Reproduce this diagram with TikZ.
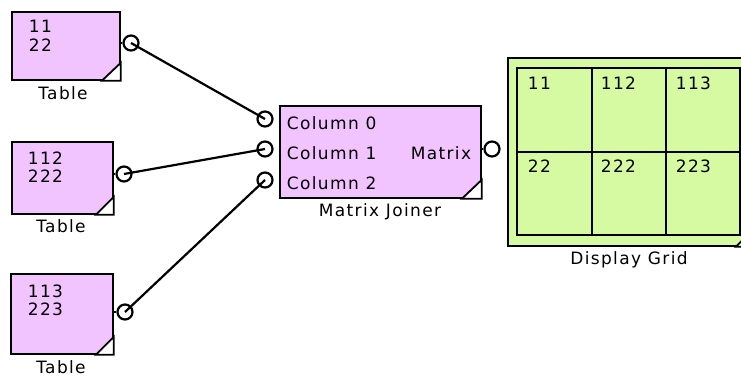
\documentclass[tikz,border=0pt]{standalone}
\usepackage{fontspec}
\setmainfont{DejaVu Sans}[LetterSpace=8]
\definecolor{blockpink}{RGB}{242,196,255}
\definecolor{gridgreen}{RGB}{214,250,162}

\begin{document}
\begin{tikzpicture}[x=1pt, y=-1pt, line width=1.8pt,
    every node/.style={font=\fontsize{17}{20}\selectfont, inner sep=0pt},
    block/.style={draw, fill=blockpink, anchor=north west},
    port/.style={circle, draw, line width=2.2pt, minimum size=15pt},
    wire/.style={line width=2.2pt},
    caption/.style={anchor=base}]

    \useasboundingbox (0,0) rectangle (741,379);
    \clip (0,0) rectangle (741,379);

    % Table 1
    \node[block, minimum width=108pt, minimum height=68pt] (tab1) at (11,11) {};
    \draw[fill=white] (tab1.south east) -- ++(-19,0) -- ++(19,-18) -- cycle;
    \node[anchor=base west] (tab1a) at (28,33) {11};
    \node[anchor=base west] (tab1b) at (28,52) {22};
    \node[caption] (tab1cap) at (63,100) {Table};
    \node[port] (tab1out) at (131,43) {};
    \draw (tab1.east |- tab1out) -- (tab1out.west);

    % Table 2
    \node[block, minimum width=101pt, minimum height=72pt] (tab2) at (11,141) {};
    \draw[fill=white] (tab2.south east) -- ++(-18,0) -- ++(18,-18) -- cycle;
    \node[anchor=base west] (tab2a) at (27,165) {112};
    \node[anchor=base west] (tab2b) at (27,183) {222};
    \node[caption] (tab2cap) at (61,233) {Table};
    \node[port] (tab2out) at (124,174) {};
    \draw (tab2.east |- tab2out) -- (tab2out.west);

    % Table 3
    \node[block, minimum width=102pt, minimum height=80pt] (tab3) at (10,273) {};
    \draw[fill=white] (tab3.south east) -- ++(-18,0) -- ++(18,-18) -- cycle;
    \node[anchor=base west] (tab3a) at (27,297) {113};
    \node[anchor=base west] (tab3b) at (27,315) {223};
    \node[caption] (tab3cap) at (61,373) {Table};
    \node[port] (tab3out) at (125,312) {};
    \draw (tab3.east |- tab3out) -- (tab3out.west);

    % Matrix Joiner
    \node[block, minimum width=201pt, minimum height=92pt] (join) at (279,105) {};
    \draw[fill=white] (join.south east) -- ++(-20,0) -- ++(20,-19) -- cycle;
    \node[anchor=base west] (col0) at (286,130) {Column 0};
    \node[anchor=base west] (col1) at (286,160) {Column 1};
    \node[anchor=base west] (col2) at (286,190) {Column 2};
    \node[anchor=base east] (matrix) at (472,160) {Matrix};
    \node[caption] (joincap) at (380,217) {Matrix Joiner};
    \node[port] (join0) at (265,119) {};
    \node[port] (join1) at (265,149) {};
    \node[port] (join2) at (265,180) {};
    \node[port] (joinout) at (492,149) {};
    \draw (join.east |- joinout) -- (joinout.west);

    % Display Grid
    \node[draw, fill=gridgreen, anchor=north west, minimum width=245pt, minimum height=188pt] (grid) at (507,57) {};
    \draw[fill=white] (grid.south east) -- ++(-18,0) -- ++(18,-18) -- cycle;
    \draw (517,68) rectangle (740,235);
    \draw (517,152) -- (740,152);
    \foreach \gx in {592,666}
        \draw (\gx,68) -- (\gx,235);
    \node[anchor=base west] (cell11) at (527,90) {11};
    \node[anchor=base west] (cell12) at (600,90) {112};
    \node[anchor=base west] (cell13) at (675,90) {113};
    \node[anchor=base west] (cell21) at (527,173) {22};
    \node[anchor=base west] (cell22) at (600,173) {222};
    \node[anchor=base west] (cell23) at (675,173) {223};
    \node[caption] (gridcap) at (629,265) {Display Grid};

    % wires
    \draw[wire] (tab1out.center) -- (join0.center);
    \draw[wire] (tab2out.center) -- (join1.center);
    \draw[wire] (tab3out.center) -- (join2.center);

\end{tikzpicture}
\end{document}
